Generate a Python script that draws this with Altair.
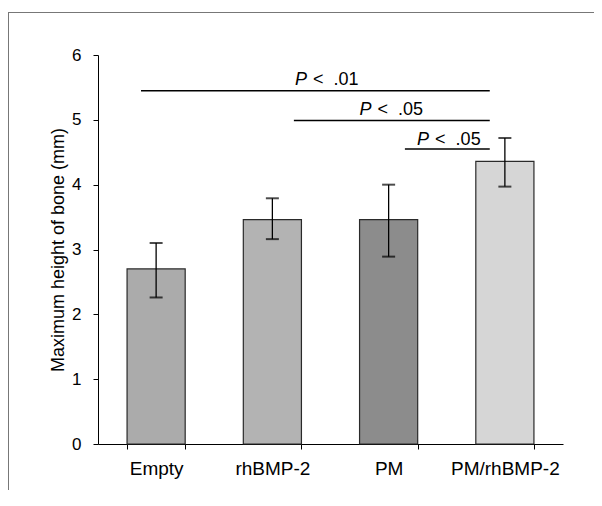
import altair as alt
import pandas as pd

categories = ["Empty", "rhBMP-2", "PM", "PM/rhBMP-2"]
means = [2.70, 3.46, 3.46, 4.36]
err_hi = [3.10, 3.79, 4.00, 4.72]
err_lo = [2.26, 3.16, 2.89, 3.97]

sig_from = ["Empty", "rhBMP-2", "PM"]
sig_to = ["PM/rhBMP-2", "PM/rhBMP-2", "PM/rhBMP-2"]
sig_y = [5.45, 4.99, 4.55]
sig_label_at = ["rhBMP-2", "PM", "PM"]
sig_label_y = [5.54, 5.08, 4.61]
sig_p = ["P", "P", "P"]
sig_text = ["<\u00a0\u00a0.01", "<\u00a0\u00a0.05", "<\u00a0\u00a0.05"]

FONT = "Liberation Sans"

bars_df = pd.DataFrame({"cat": categories, "mean": means, "hi": err_hi, "lo": err_lo})

xscale = alt.Scale(domain=categories, paddingInner=0.5, paddingOuter=0.25)
yscale = alt.Scale(domain=[0, 6])

xaxis = alt.Axis(title=None, labelAngle=0, tickBand="extent", tickSize=5,
                 labelFontSize=19, labelPadding=10, labelFont=FONT,
                 domainColor="black", tickColor="black", labelColor="black")
yaxis = alt.Axis(values=[0, 1, 2, 3, 4, 5, 6], format="d", tickSize=5, labelPadding=12,
                 labelFontSize=17, labelFont=FONT, grid=False,
                 title="Maximum height of bone (mm)", titleFontSize=18,
                 titleFont=FONT, titleFontWeight="normal", titlePadding=4,
                 domainColor="black", tickColor="black", labelColor="black",
                 titleColor="black")


def X(field, **kw):
    return alt.X(field, scale=xscale, axis=xaxis, **kw)


def Y(field):
    return alt.Y(field, scale=yscale, axis=yaxis)


bars = alt.Chart(bars_df).mark_bar(stroke="#2a2a2a", strokeWidth=1.2).encode(
    x=X("cat:N"),
    y=Y("mean:Q"),
    color=alt.Color("cat:N", scale=alt.Scale(domain=categories,
                    range=["#ababab", "#b3b3b3", "#8c8c8c", "#d6d6d6"]), legend=None),
)

err_rule = alt.Chart(bars_df).mark_rule(color="black", strokeWidth=1.3).encode(
    x=X("cat:N"),
    y=Y("lo:Q"),
    y2="hi:Q",
)
cap_hi = alt.Chart(bars_df).mark_tick(color="black", thickness=2, size=13).encode(
    x=X("cat:N"),
    y=Y("hi:Q"),
)
cap_lo = alt.Chart(bars_df).mark_tick(color="black", thickness=2, size=13).encode(
    x=X("cat:N"),
    y=Y("lo:Q"),
)

line_start_pos = [0.24, 0.87, 0.78]
line_end_pos = 0.24
label_pos = [0.89, 0.0, 0.99]

sig_layers = []
for i in range(len(sig_from)):
    row = pd.DataFrame({"from": [sig_from[i]], "to": [sig_to[i]], "y": [sig_y[i]],
                        "at": [sig_label_at[i]], "ly": [sig_label_y[i]],
                        "p": [sig_p[i]], "t": [sig_text[i]]})
    base = alt.Chart(row)
    sig_layers.append(base.mark_rule(color="black", strokeWidth=1.5).encode(
        x=X("from:N", bandPosition=line_start_pos[i]),
        x2=alt.X2("to:N", bandPosition=line_end_pos),
        y=Y("y:Q"),
    ))
    sig_layers.append(base.mark_text(align="left", baseline="alphabetic", font=FONT,
                                     fontSize=18, fontStyle="italic", color="black").encode(
        x=X("at:N", bandPosition=label_pos[i]),
        y=Y("ly:Q"),
        text="p:N",
    ))
    sig_layers.append(base.mark_text(align="left", baseline="alphabetic", font=FONT,
                                     fontSize=18, dx=18, color="black").encode(
        x=X("at:N", bandPosition=label_pos[i]),
        y=Y("ly:Q"),
        text="t:N",
    ))

frame_df = pd.DataFrame({"a": [0]})
frame_top = alt.Chart(frame_df).mark_rule(color="#777777", strokeWidth=1).encode(
    x=alt.value(-90), x2=alt.value(510), y=alt.value(-42.5))
frame_left = alt.Chart(frame_df).mark_rule(color="#777777", strokeWidth=1).encode(
    x=alt.value(-89.5), y=alt.value(-43), y2=alt.value(500))

chart = alt.layer(bars, err_rule, cap_hi, cap_lo, *sig_layers, frame_top, frame_left).properties(
    width=465, height=389,
    autosize=alt.AutoSizeParams(type="none"),
    padding={"left": 90, "top": 47, "right": 31, "bottom": 46},
).configure(background="white").configure_view(stroke=None)

chart.save("out.html", embed_options={"renderer": "svg", "actions": False})
